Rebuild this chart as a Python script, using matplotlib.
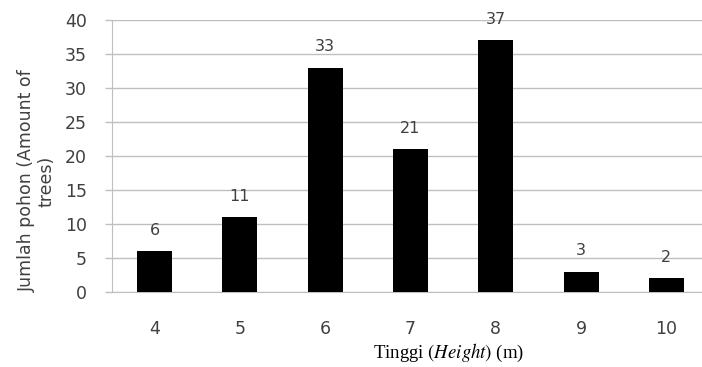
import matplotlib.pyplot as plt

# data
heights = ['4', '5', '6', '7', '8', '9', '10']
trees = [6, 11, 33, 21, 37, 3, 2]

plt.rcParams['mathtext.fontset'] = 'stix'

fig = plt.figure(figsize=(7.02, 3.67), dpi=100)
# plot area runs past the right edge of the picture (cropped original)
ax = fig.add_axes([112 / 702, 75 / 367, 597 / 702, 272 / 367])

x = range(len(heights))
ax.bar(x, trees, width=0.41, color='black', zorder=3)
for i, v in zip(x, trees):
    ax.text(i, v + 2.0, str(v), ha='center', va='bottom', fontsize=11.5, color='#404040')

ax.set_xlim(-0.5, len(heights) - 0.5)
ax.set_ylim(0, 40)
ax.set_yticks(range(0, 41, 5))
ax.set_xticks(list(x))
ax.set_xticklabels(heights)
ax.yaxis.grid(True, color='#bfbfbf', linewidth=1, zorder=0)
for s in ['top', 'right']:
    ax.spines[s].set_visible(False)
ax.spines['left'].set_color('#bfbfbf')
ax.spines['bottom'].set_color('#bfbfbf')
ax.tick_params(axis='y', colors='#bfbfbf', labelcolor='#404040', labelsize=12.5, length=5, width=1, pad=13)
ax.tick_params(axis='x', length=0, labelcolor='#404040', labelsize=12.5, pad=20)

fig.text(37 / 702, 186 / 367, 'Jumlah pohon (Amount of\ntrees)', rotation=90,
         ha='center', va='center', fontsize=12.5, color='#404040', linespacing=1.1,
         rotation_mode='anchor')
fig.text(449 / 702, 14 / 367, r'Tinggi $\mathit{(Height)}$ (m)', ha='center', va='center',
         fontsize=13.5, family='Liberation Serif', color='black')

fig.savefig('out.png', dpi=100)
